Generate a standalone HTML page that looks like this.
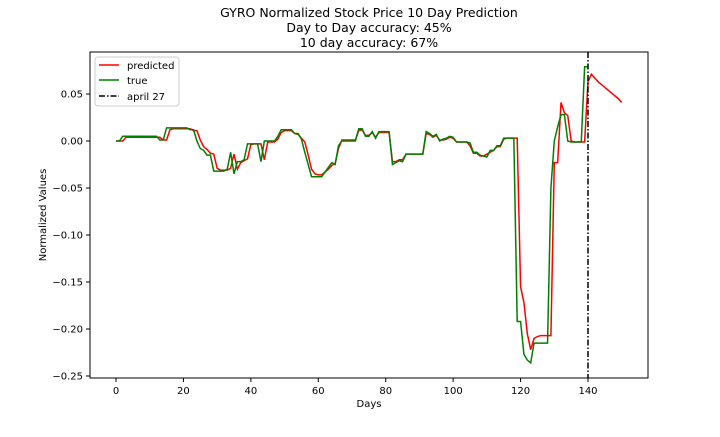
<!DOCTYPE html>
<html><head><meta charset="utf-8"><style>
body{margin:0;background:#fff}
svg text{font-family:"DejaVu Sans","Liberation Sans",sans-serif;fill:#000}
</style></head><body>
<svg width="720" height="432" id="c" xmlns="http://www.w3.org/2000/svg">
<text x="369" y="17" font-size="12.5" text-anchor="middle">GYRO Normalized Stock Price 10 Day Prediction</text>
<text x="369" y="32" font-size="12.5" text-anchor="middle">Day to Day accuracy: 45%</text>
<text x="369" y="47" font-size="12.5" text-anchor="middle">10 day accuracy: 67%</text>
<text x="369" y="407" font-size="10" text-anchor="middle">Days</text>
<text x="46" y="215" font-size="10" text-anchor="middle" transform="rotate(-90 46 215)">Normalized Values</text>
<g id="ticks"></g>
<g id="series"></g>
<rect x="90" y="52" width="558" height="326" fill="none" stroke="#000" stroke-width="1"/>
<g>
<rect x="95" y="57" width="84" height="49" rx="3" fill="#fff" fill-opacity="0.8" stroke="#ccc"/>
<line x1="99" y1="65" x2="119" y2="65" stroke="red" stroke-width="1.5"/>
<text x="127" y="69" font-size="10">predicted</text>
<line x1="99" y1="80" x2="119" y2="80" stroke="green" stroke-width="1.5"/>
<text x="127" y="84" font-size="10">true</text>
<line x1="99" y1="96" x2="119" y2="96" stroke="#000" stroke-width="1.5" stroke-dasharray="6,2,1.5,2"/>
<text x="127" y="100" font-size="10">april 27</text>
</g>
</svg>
<script>
const xTicks=[0,20,40,60,80,100,120,140];
const yTicks=[0.05,0,-0.05,-0.1,-0.15,-0.2,-0.25];
const yTickLabels=["0.05","0.00","\u22120.05","\u22120.10","\u22120.15","\u22120.20","\u22120.25"];
const trueVals=[0,0,0.005,0.005,0.005,0.005,0.005,0.005,0.005,0.005,0.005,0.005,0.005,0.001,0.001,0.014,0.014,0.014,0.014,0.014,0.014,0.014,0.012,0.012,0,-0.008,-0.01,-0.015,-0.015,-0.032,-0.032,-0.032,-0.032,-0.03,-0.012,-0.035,-0.022,-0.022,-0.02,-0.003,-0.003,-0.003,-0.003,-0.022,0,0,0,0,0.005,0.012,0.012,0.012,0.012,0.008,0.008,0.002,-0.012,-0.025,-0.038,-0.038,-0.038,-0.038,-0.033,-0.028,-0.023,-0.025,-0.005,0,0,0,0,0,0.013,0.013,0.005,0.005,0.01,0.003,0.01,0.01,0.01,0.01,-0.025,-0.023,-0.021,-0.022,-0.014,-0.014,-0.014,-0.014,-0.014,-0.014,0.01,0.008,0.005,0.007,0,0.002,0.003,0.005,0.004,-0.001,-0.001,-0.001,-0.001,-0.002,-0.012,-0.012,-0.015,-0.016,-0.017,-0.01,-0.01,-0.005,-0.005,0.003,0.003,0.003,0.003,-0.192,-0.192,-0.227,-0.233,-0.236,-0.215,-0.215,-0.215,-0.215,-0.215,-0.05,0,0.015,0.028,0.028,0,-0.001,-0.001,-0.001,-0.001,0.079,0.079];
const predVals=[0,0,0,0.004,0.004,0.004,0.004,0.004,0.004,0.004,0.004,0.004,0.004,0.004,0.001,0.001,0.012,0.013,0.013,0.013,0.013,0.013,0.013,0.011,0.011,0.001,-0.006,-0.009,-0.013,-0.014,-0.029,-0.031,-0.031,-0.031,-0.029,-0.014,-0.03,-0.023,-0.021,-0.019,-0.004,-0.003,-0.003,-0.003,-0.02,-0.001,-0.001,-0.001,0.002,0.009,0.011,0.011,0.011,0.008,0.007,0.003,-0.001,-0.015,-0.03,-0.035,-0.036,-0.036,-0.033,-0.03,-0.026,-0.024,-0.008,0.001,0.001,0.001,0.001,0.001,0.011,0.012,0.006,0.006,0.009,0.004,0.009,0.009,0.009,0.009,-0.022,-0.022,-0.02,-0.02,-0.014,-0.014,-0.014,-0.014,-0.014,-0.014,0.008,0.007,0.004,0.006,0.001,0.001,0.002,0.004,0.003,-0.001,-0.001,-0.001,-0.001,-0.005,-0.013,-0.013,-0.016,-0.016,-0.014,-0.012,-0.01,-0.006,-0.006,0.002,0.003,0.003,0.003,0.003,-0.155,-0.172,-0.205,-0.222,-0.21,-0.208,-0.207,-0.207,-0.207,-0.207,-0.023,-0.023,0.041,0.03,0.027,0,-0.001,-0.001,-0.001,-0.001,0.063,0.071,0.067,0.063,0.06,0.057,0.054,0.051,0.048,0.045,0.041];
const markerDay=140;
const NS="http://www.w3.org/2000/svg";
const xs=d=>116+d*(588-116)/140;
const ys=v=>141-v*(47/0.05);
const tk=document.getElementById('ticks');
function mk(t,a,p){const e=document.createElementNS(NS,t);for(const k in a)e.setAttribute(k,a[k]);p.appendChild(e);return e;}
xTicks.forEach(d=>{
  const l=mk('line',{x1:xs(d),x2:xs(d),y1:378,y2:382,stroke:'#000'},tk);
  
  
  const t=mk('text',{x:xs(d),y:394,'font-size':10,'text-anchor':'middle'},tk);t.textContent=d;
  
  
});
yTicks.forEach((v,i)=>{
  const l=mk('line',{x1:86,x2:90,y1:ys(v),y2:ys(v),stroke:'#000'},tk);
  
  
  const t=mk('text',{x:83,y:ys(v)+3.5,'font-size':10,'text-anchor':'end'},tk);t.textContent=yTickLabels[i];
  
  
});
const sg=document.getElementById('series');
const pp=mk('polyline',{points:predVals.map((v,i)=>xs(i)+','+ys(v)).join(' '),fill:'none',stroke:'red','stroke-width':1.5},sg);


const tp=mk('polyline',{points:trueVals.map((v,i)=>xs(i)+','+ys(v)).join(' '),fill:'none',stroke:'green','stroke-width':1.5},sg);


const vl=mk('line',{x1:xs(markerDay),x2:xs(markerDay),y1:52,y2:378,stroke:'#000','stroke-width':1.5,'stroke-dasharray':'6,2,1.5,2'},sg);


</script>
</body></html>
